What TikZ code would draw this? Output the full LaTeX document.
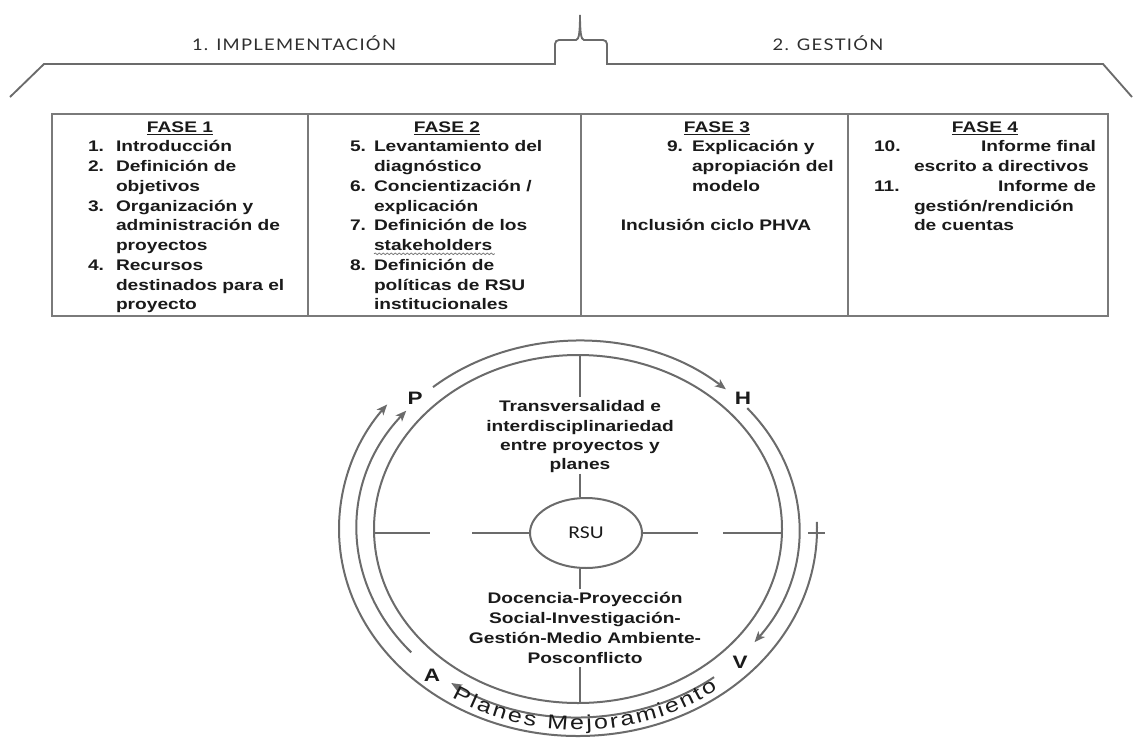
\documentclass[tikz,border=0pt]{standalone}
\usepackage{fontspec}
\setmainfont{Liberation Sans}[FakeStretch=1.25]
\newfontfamily\hdrfont{Lato}[FakeStretch=1.15,LetterSpace=8]
\newfontfamily\rsufont{Carlito}[FakeStretch=1.2]
\usetikzlibrary{arrows.meta,decorations.text,decorations.pathmorphing,shapes.geometric,calc}
\definecolor{linegray}{HTML}{6B6B6B}
\definecolor{boxgray}{HTML}{7A7A7A}
\definecolor{ink}{HTML}{1A1A1A}
\definecolor{hdrgray}{HTML}{2E2E2E}
\newcommand\tline[4]{\node[txt,anchor=base west] (#1) at (#2,-#3) {#4};}
\newcommand\plfont{\fontsize{15pt}{17pt}\selectfont}
\begin{document}
\begin{tikzpicture}[x=0.75pt,y=0.75pt,
 txt/.style={inner sep=0pt,outer sep=0pt,text=ink,font=\fontsize{11.5pt}{14pt}\selectfont\bfseries},
 lbl/.style={inner sep=0pt,text=ink,font=\fontsize{13.5pt}{15pt}\selectfont\bfseries},
 hdr/.style={inner sep=0pt,text=hdrgray,font=\hdrfont\fontsize{12pt}{14pt}\selectfont},
 ring/.style={draw=linegray,line width=1.5pt},
 tip/.style={-{Stealth[length=8pt,width=6.5pt,inset=2pt]}},
 boxline/.style={draw=boxgray,line width=1.1pt},
 brace/.style={draw=linegray,line width=1.4pt},
 ul/.style={draw=ink,line width=0.9pt}]
\useasboundingbox (0,0) rectangle (1135,-739);

% ---------- top brace ----------
\draw[brace] (10,-97) -- (44,-64) -- (555,-64) -- (555,-44) to[out=90,in=180] (559,-40) -- (576,-40)
  .. controls (579,-40) and (580,-32) .. (580,-15)
  .. controls (580,-32) and (581,-40) .. (584,-40) -- (603,-40) to[out=0,in=90] (607,-44)
  -- (607,-64) -- (1103,-64) -- (1132,-97);
\node[hdr,anchor=base] (h1) at (294,-50) {1. IMPLEMENTACIÓN};
\node[hdr,anchor=base] (h2) at (828,-50) {2. GESTIÓN};

% ---------- table ----------
\draw[boxline] (52,-114) rectangle (1108,-316);
\draw[boxline] (308,-114) -- (308,-316);
\draw[boxline] (581,-114) -- (581,-316);
\draw[boxline] (848,-114) -- (848,-316);

% column 1
\node[txt,anchor=base] (f1) at (180,-132) {FASE 1};
\draw[ul] ([yshift=-2pt]f1.base west) -- ([yshift=-2pt]f1.base east);
\tline{n1}{88}{151.75}{1.}
\tline{a1}{116}{151.75}{Introducción}
\tline{n2}{88}{171.5}{2.}
\tline{a2}{116}{171.5}{Definición de}
\tline{a3}{116}{191.25}{objetivos}
\tline{n3}{88}{211}{3.}
\tline{a4}{116}{211}{Organización y}
\tline{a5}{116}{230.75}{administración de}
\tline{a6}{116}{250.5}{proyectos}
\tline{n4}{88}{270.25}{4.}
\tline{a7}{116}{270.25}{Recursos}
\tline{a8}{116}{290}{destinados para el}
\tline{a9}{116}{309.75}{proyecto}

% column 2
\node[txt,anchor=base] (f2) at (447,-132) {FASE 2};
\draw[ul] ([yshift=-2pt]f2.base west) -- ([yshift=-2pt]f2.base east);
\tline{n5}{350}{151.75}{5.}
\tline{b1}{374}{151.75}{Levantamiento del}
\tline{b2}{374}{171.5}{diagnóstico}
\tline{n6}{350}{191.25}{6.}
\tline{b3}{374}{191.25}{Concientización /}
\tline{b4}{374}{211}{explicación}
\tline{n7}{350}{230.75}{7.}
\tline{b5}{374}{230.75}{Definición de los}
\tline{b6}{374}{250.5}{stakeholders}
\draw[draw=boxgray,line width=0.6pt,decorate,decoration={snake,amplitude=0.6pt,segment length=3pt}]
  ([yshift=-2.5pt]b6.base west) -- ([yshift=-2.5pt,xshift=2pt]b6.base east);
\tline{n8}{350}{270.25}{8.}
\tline{b7}{374}{270.25}{Definición de}
\tline{b8}{374}{290}{políticas de RSU}
\tline{b9}{374}{309.75}{institucionales}

% column 3
\node[txt,anchor=base] (f3) at (717,-132) {FASE 3};
\draw[ul] ([yshift=-2pt]f3.base west) -- ([yshift=-2pt]f3.base east);
\tline{n9}{667}{151.75}{9.}
\tline{c1}{692}{151.75}{Explicación y}
\tline{c2}{692}{171.5}{apropiación del}
\tline{c3}{692}{191.25}{modelo}
\node[txt,anchor=base] (c4) at (716,-230.75) {Inclusión ciclo PHVA};

% column 4
\node[txt,anchor=base] (f4) at (985,-132) {FASE 4};
\draw[ul] ([yshift=-2pt]f4.base west) -- ([yshift=-2pt]f4.base east);
\tline{n10}{874}{151.75}{10.}
\node[txt,anchor=base east] (d1) at (1096,-151.75) {Informe final};
\tline{d2}{914}{171.5}{escrito a directivos}
\tline{n11}{874}{191.25}{11.}
\node[txt,anchor=base east] (d3) at (1096,-191.25) {Informe de};
\tline{d4}{914}{211}{gestión/rendición}
\tline{d5}{914}{230.75}{de cuentas}

% ---------- circle ----------
\coordinate (C) at (578,-529);
\draw[ring] (C) ellipse [x radius=204, y radius=174];
\coordinate (r1top) at ($(C)+(90:204 and 174)$);
\coordinate (r1bot) at ($(C)+(-90:204 and 174)$);

% ring 2 arcs (PHVA)
\draw[ring,tip] ($(C)+(131:221 and 188)$) arc[start angle=131, end angle=48, x radius=221, y radius=188];
\draw[ring,tip] ($(C)+(40:221 and 188)$) arc[start angle=40, end angle=-37, x radius=221, y radius=188];
\draw[ring,tip] ($(C)+(-52:221 and 188)$) arc[start angle=-52, end angle=-125, x radius=221, y radius=188];
\draw[ring,tip] ($(C)+(-139:221 and 188)$) arc[start angle=-139, end angle=-219, x radius=221, y radius=188];
% ring 3
\draw[ring,tip] ($(C)+(2:239 and 207)$) arc[start angle=2, end angle=-217, x radius=239, y radius=207];
\coordinate (tickL) at (808,-533);
\coordinate (tickR) at (825,-533);
\draw[ring] (tickL) -- (tickR);

\node[lbl] (P) at (415,-398) {P};
\node[lbl] (H) at (743,-398) {H};
\node[lbl] (V) at (740,-662) {V};
\node[lbl] (A) at (432,-675) {A};

% RSU
\node[draw=linegray,line width=1.5pt,ellipse,minimum width=84pt,minimum height=52.5pt,inner sep=0pt,
  font=\rsufont\fontsize{13.5pt}{15pt}\selectfont,text=ink] (rsu) at (586,-533) {RSU};

% center texts
\node[txt,anchor=base] (t1) at (580,-411) {Transversalidad e};
\node[txt,anchor=base] (t2) at (580,-431) {interdisciplinariedad};
\node[txt,anchor=base] (t3) at (580,-450) {entre proyectos y};
\node[txt,anchor=base] (t4) at (580,-469) {planes};
\node[txt,anchor=base] (u1) at (585,-603) {Docencia-Proyección};
\node[txt,anchor=base] (u2) at (585,-623) {Social-Investigación-};
\node[txt,anchor=base] (u3) at (585,-643) {Gestión-Medio Ambiente-};
\node[txt,anchor=base] (u4) at (585,-663) {Posconflicto};

% spokes
\draw[ring] (r1top -| t1.north) -- ([yshift=2pt]t1.north);
\draw[ring] ([yshift=-1pt]t4.south) -- (t4.south |- rsu.north);
\draw[ring] (t4.south |- rsu.south) -- ([yshift=2pt]u1.north -| t4.south);
\draw[ring] ([yshift=-3pt]u4.south -| t4.south) -- (t4.south |- r1bot);
\coordinate (hL1) at (374,-533);
\coordinate (hL2) at (430,-533);
\coordinate (hL3) at (472,-533);
\coordinate (hR1) at (698,-533);
\coordinate (hR2) at (723,-533);
\coordinate (hR3) at (782,-533);
\draw[ring] (hL1) -- (hL2);
\draw[ring] (hL3) -- (rsu.west);
\draw[ring] (rsu.east) -- (hR1);
\draw[ring] (hR2) -- (hR3);

% Planes Mejoramiento
\path[decorate,decoration={text along path,text color=ink,text align={fit to path},
  text={|\plfont|Planes Mejoramiento}}]
  ($(C)+(-123:232 and 201)$) arc[start angle=-123, end angle=-53, x radius=232, y radius=201];
\end{tikzpicture}
\end{document}
